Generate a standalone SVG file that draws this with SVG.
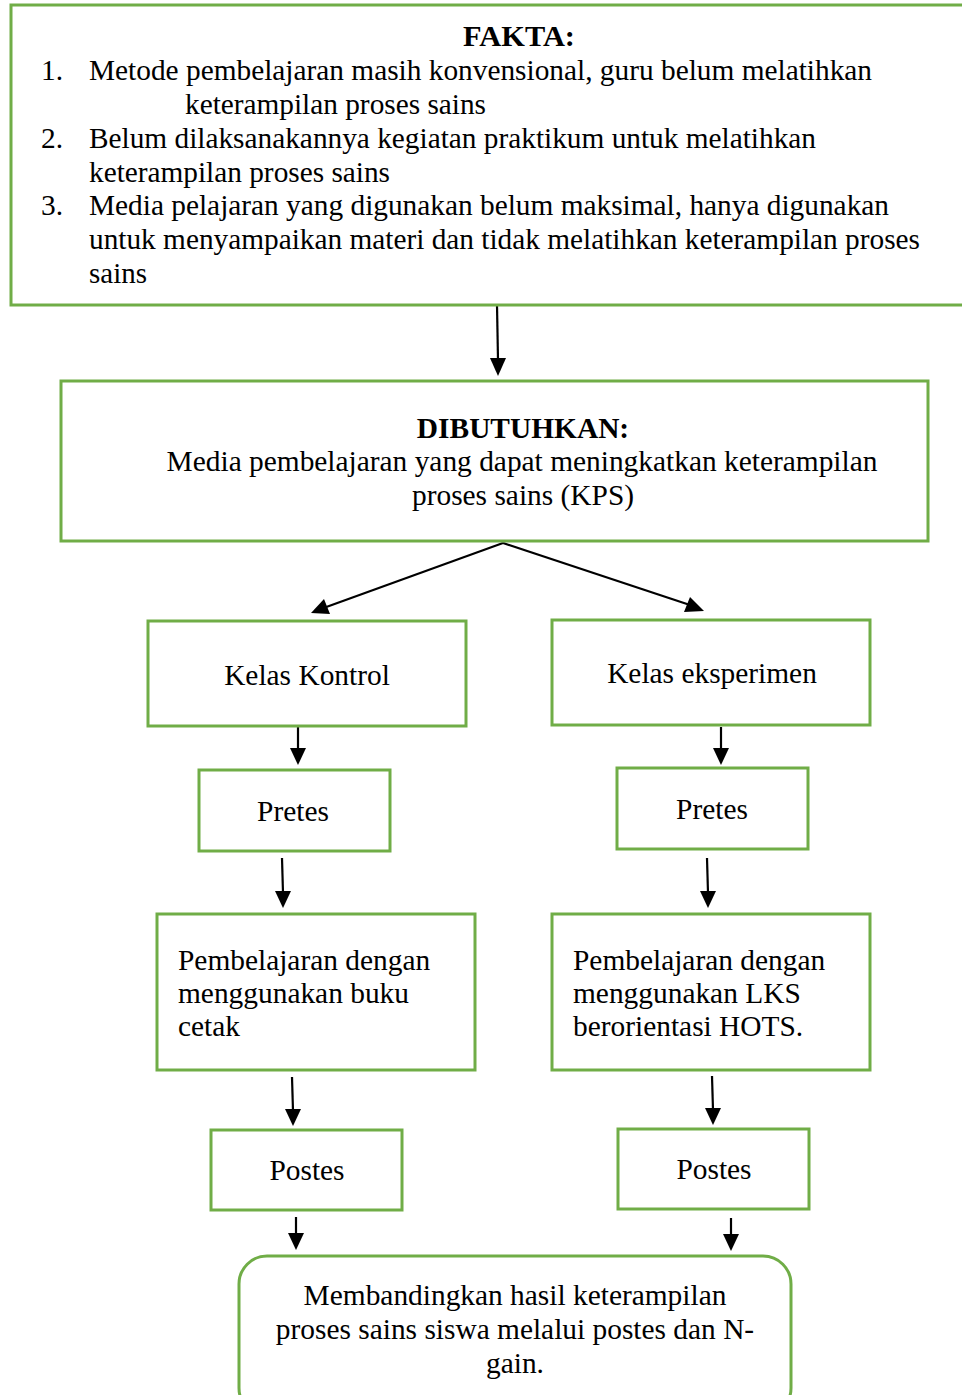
<svg xmlns="http://www.w3.org/2000/svg" width="962" height="1395" viewBox="0 0 962 1395">
<style>
.box{fill:#fff;stroke:#70AD47;stroke-width:3}
.t{font-family:"Liberation Serif","Times New Roman",serif;font-size:29.4px;fill:#000}
.c{text-anchor:middle}
.b{font-weight:bold}
.con{stroke:#000;stroke-width:2.2;fill:none}
.ah{fill:#000}
</style>
<rect width="962" height="1395" fill="#fff"/>
<g id="connectors">
<line class="con" x1="497" y1="305" x2="498" y2="360"/>
<path class="ah" d="M490,358 L506,358 L498,376 z"/>
<path class="con" d="M503,543 L318,610"/>
<path class="con" d="M503,543 L696,607"/>
<path class="ah" d="M311,613 L324,599 L330,614 z"/>
<path class="ah" d="M704,611 L684,612 L690,597 z"/>
<line class="con" x1="298" y1="727" x2="298" y2="750"/>
<path class="ah" d="M290,748 L306,748 L298,765 z"/>
<line class="con" x1="721" y1="727" x2="721" y2="750"/>
<path class="ah" d="M713,748 L729,748 L721,765 z"/>
<line class="con" x1="282" y1="858" x2="283" y2="893"/>
<path class="ah" d="M275,891 L291,891 L283,908 z"/>
<line class="con" x1="707" y1="858" x2="708" y2="893"/>
<path class="ah" d="M700,891 L716,891 L708,908 z"/>
<line class="con" x1="292" y1="1077" x2="293" y2="1111"/>
<path class="ah" d="M285,1109 L301,1109 L293,1126 z"/>
<line class="con" x1="712" y1="1076" x2="713" y2="1110"/>
<path class="ah" d="M705,1108 L721,1108 L713,1125 z"/>
<line class="con" x1="296" y1="1217" x2="296" y2="1235"/>
<path class="ah" d="M288,1233 L304,1233 L296,1250 z"/>
<line class="con" x1="731" y1="1218" x2="731" y2="1236"/>
<path class="ah" d="M723,1234 L739,1234 L731,1251 z"/>
</g>
<g id="fakta">
<rect class="box" x="11" y="5" width="960" height="300"/>
<text class="t b c" x="519" y="46" textLength="112" lengthAdjust="spacingAndGlyphs">FAKTA:</text>
<text class="t" x="41" y="80">1.</text>
<text class="t" x="89" y="80" textLength="783" lengthAdjust="spacingAndGlyphs">Metode pembelajaran masih konvensional, guru belum melatihkan</text>
<text class="t" x="185" y="114" textLength="301" lengthAdjust="spacingAndGlyphs">keterampilan proses sains</text>
<text class="t" x="41" y="148">2.</text>
<text class="t" x="89" y="148" textLength="727" lengthAdjust="spacingAndGlyphs">Belum dilaksanakannya kegiatan praktikum untuk melatihkan</text>
<text class="t" x="89" y="182" textLength="301" lengthAdjust="spacingAndGlyphs">keterampilan proses sains</text>
<text class="t" x="41" y="215">3.</text>
<text class="t" x="89" y="215" textLength="800" lengthAdjust="spacingAndGlyphs">Media pelajaran yang digunakan belum maksimal, hanya digunakan</text>
<text class="t" x="89" y="249" textLength="831" lengthAdjust="spacingAndGlyphs">untuk menyampaikan materi dan tidak melatihkan keterampilan proses</text>
<text class="t" x="89" y="283" textLength="58" lengthAdjust="spacingAndGlyphs">sains</text>
</g>
<g id="dibutuhkan">
<rect class="box" x="61" y="381" width="867" height="160"/>
<text class="t b c" x="523" y="438">DIBUTUHKAN:</text>
<text class="t c" x="522" y="471">Media pembelajaran yang dapat meningkatkan keterampilan</text>
<text class="t c" x="523" y="505">proses sains (KPS)</text>
</g>
<g id="kelas-kontrol">
<rect class="box" x="148" y="621" width="318" height="105"/>
<text class="t c" x="307" y="685">Kelas Kontrol</text>
</g>
<g id="kelas-eksperimen">
<rect class="box" x="552" y="620" width="318" height="105"/>
<text class="t c" x="712" y="683">Kelas eksperimen</text>
</g>
<g id="pretes-kontrol">
<rect class="box" x="199" y="770" width="191" height="81"/>
<text class="t c" x="293" y="821">Pretes</text>
</g>
<g id="pretes-eksperimen">
<rect class="box" x="617" y="768" width="191" height="81"/>
<text class="t c" x="712" y="819">Pretes</text>
</g>
<g id="pembelajaran-kontrol">
<rect class="box" x="157" y="914" width="318" height="156"/>
<text class="t" x="178" y="970">Pembelajaran dengan</text>
<text class="t" x="178" y="1003">menggunakan buku</text>
<text class="t" x="178" y="1036">cetak</text>
</g>
<g id="pembelajaran-eksperimen">
<rect class="box" x="552" y="914" width="318" height="156"/>
<text class="t" x="573" y="970">Pembelajaran dengan</text>
<text class="t" x="573" y="1003">menggunakan LKS</text>
<text class="t" x="573" y="1036">berorientasi HOTS.</text>
</g>
<g id="postes-kontrol">
<rect class="box" x="211" y="1130" width="191" height="80"/>
<text class="t c" x="307" y="1180">Postes</text>
</g>
<g id="postes-eksperimen">
<rect class="box" x="618" y="1129" width="191" height="80"/>
<text class="t c" x="714" y="1179">Postes</text>
</g>
<g id="hasil">
<rect class="box" x="239" y="1256" width="552" height="160" rx="28" ry="28"/>
<text class="t c" x="515" y="1305">Membandingkan hasil keterampilan</text>
<text class="t c" x="515" y="1339">proses sains siswa melalui postes dan N-</text>
<text class="t c" x="515" y="1373">gain.</text>
</g>
</svg>
